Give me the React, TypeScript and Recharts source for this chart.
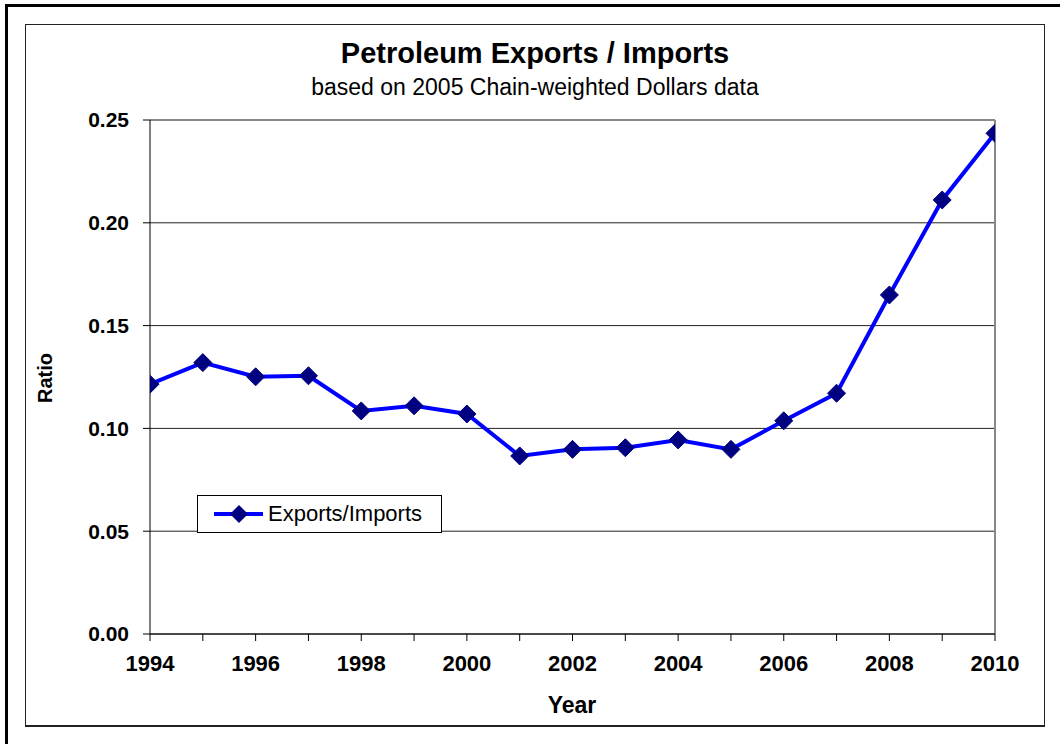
import React from 'react';
import { LineChart, Line, XAxis, YAxis, CartesianGrid, ReferenceLine } from 'recharts';

const years = [1994, 1995, 1996, 1997, 1998, 1999, 2000, 2001, 2002, 2003, 2004, 2005, 2006, 2007, 2008, 2009, 2010];
const ratios = [0.1215, 0.132, 0.1251, 0.1256, 0.1085, 0.111, 0.107, 0.0866, 0.0898, 0.0906, 0.0944, 0.0898, 0.1037, 0.1171, 0.1649, 0.2111, 0.2435];
const yTicks = [0, 0.05, 0.1, 0.15, 0.2, 0.25];
const seriesName = 'Exports/Imports';
const titleText = 'Petroleum Exports / Imports';
const subtitleText = 'based on 2005 Chain-weighted Dollars data';

const data = years.map((y, i) => ({ year: y, ratio: ratios[i] }));

const FONT = '"Liberation Sans", Arial, sans-serif';

const Diamond = (props: any) => {
  const { cx, cy } = props;
  if (cx == null || cy == null) return null;
  const r = 9;
  return (
    <polygon
      key={`d-${cx}-${cy}`}
      points={`${cx},${cy - r} ${cx + r},${cy} ${cx},${cy + r} ${cx - r},${cy}`}
      fill="#000080"
      stroke="#000080"
      strokeWidth={1}
    />
  );
};

const LegendBox = () => (
  <div
    style={{
      position: 'absolute',
      left: 197,
      top: 495,
      width: 245,
      height: 38,
      boxSizing: 'border-box',
      border: '1px solid #000',
      background: '#fff',
      display: 'flex',
      alignItems: 'center',
      fontFamily: FONT,
      fontSize: 22,
      color: '#000',
    }}
  >
    <svg width={70} height={36} style={{ display: 'block' }}>
      <line x1={16} y1={18} x2={65} y2={18} stroke="#0000FF" strokeWidth={4} />
      <polygon points="41,9 50,18 41,27 32,18" fill="#000080" />
    </svg>
    <span>{seriesName}</span>
  </div>
);

export default function App() {
  return (
    <div style={{ position: 'absolute', left: 0, top: 0, width: 1060, height: 744, overflow: 'hidden', background: '#fff' }}>
      <div style={{ position: 'absolute', left: 5, top: 4, width: 1070, height: 760, border: '3px solid #000', boxSizing: 'border-box' }} />
      <div style={{ position: 'absolute', left: 25, top: 24, width: 1020, height: 703, border: '1px solid #222', borderBottomWidth: 2, boxSizing: 'border-box' }} />
      <div style={{ position: 'absolute', left: 0, top: 0 }}>
        <LineChart
          width={1060}
          height={744}
          data={data}
          margin={{ top: 120, right: 65, bottom: 50, left: 50 }}
        >
          <CartesianGrid horizontal={true} vertical={false} stroke="#222" strokeWidth={1} />
          <XAxis
            dataKey="year"
            type="number"
            domain={[1994, 2010]}
            ticks={years}
            tickFormatter={(v: number) => (v % 2 === 0 ? String(v) : '')}
            interval={0}
            height={60}
            tickSize={7}
            tickMargin={14}
            stroke="#000"
            tick={{ fill: '#000', fontFamily: FONT, fontWeight: 'bold', fontSize: 22 }}
            allowDataOverflow
          />
          <YAxis
            type="number"
            domain={[0, 0.25]}
            ticks={yTicks}
            tickFormatter={(v: number) => v.toFixed(2)}
            width={100}
            tickSize={7}
            tickMargin={14}
            stroke="#000"
            tick={{ fill: '#000', fontFamily: FONT, fontWeight: 'bold', fontSize: 21 }}
            allowDataOverflow
          />
          <ReferenceLine y={0.25} stroke="#888" strokeWidth={2} />
          <ReferenceLine x={2010} stroke="#888" strokeWidth={2} />
          <Line
            dataKey="ratio"
            name={seriesName}
            stroke="#0000FF"
            strokeWidth={4}
            dot={Diamond}
            activeDot={false}
            isAnimationActive={false}
          />
        </LineChart>
      </div>
      <LegendBox />
      <div style={{ position: 'absolute', left: 25, width: 1020, top: 36, textAlign: 'center', fontFamily: FONT, fontWeight: 'bold', fontSize: 29, color: '#000', lineHeight: '34px' }}>
        {titleText}
      </div>
      <div style={{ position: 'absolute', left: 25, width: 1020, top: 73, textAlign: 'center', fontFamily: FONT, fontSize: 23, color: '#000', lineHeight: '28px' }}>
        {subtitleText}
      </div>
      <div style={{ position: 'absolute', left: 467, width: 210, top: 691, textAlign: 'center', fontFamily: FONT, fontWeight: 'bold', fontSize: 23, color: '#000', lineHeight: '28px' }}>
        Year
      </div>
      <div style={{ position: 'absolute', left: 45, top: 378, width: 0, height: 0 }}>
        <div style={{ position: 'absolute', left: -50, top: -12, width: 100, textAlign: 'center', transform: 'rotate(-90deg)', fontFamily: FONT, fontWeight: 'bold', fontSize: 20, color: '#000', lineHeight: '24px' }}>
          Ratio
        </div>
      </div>
    </div>
  );
}
